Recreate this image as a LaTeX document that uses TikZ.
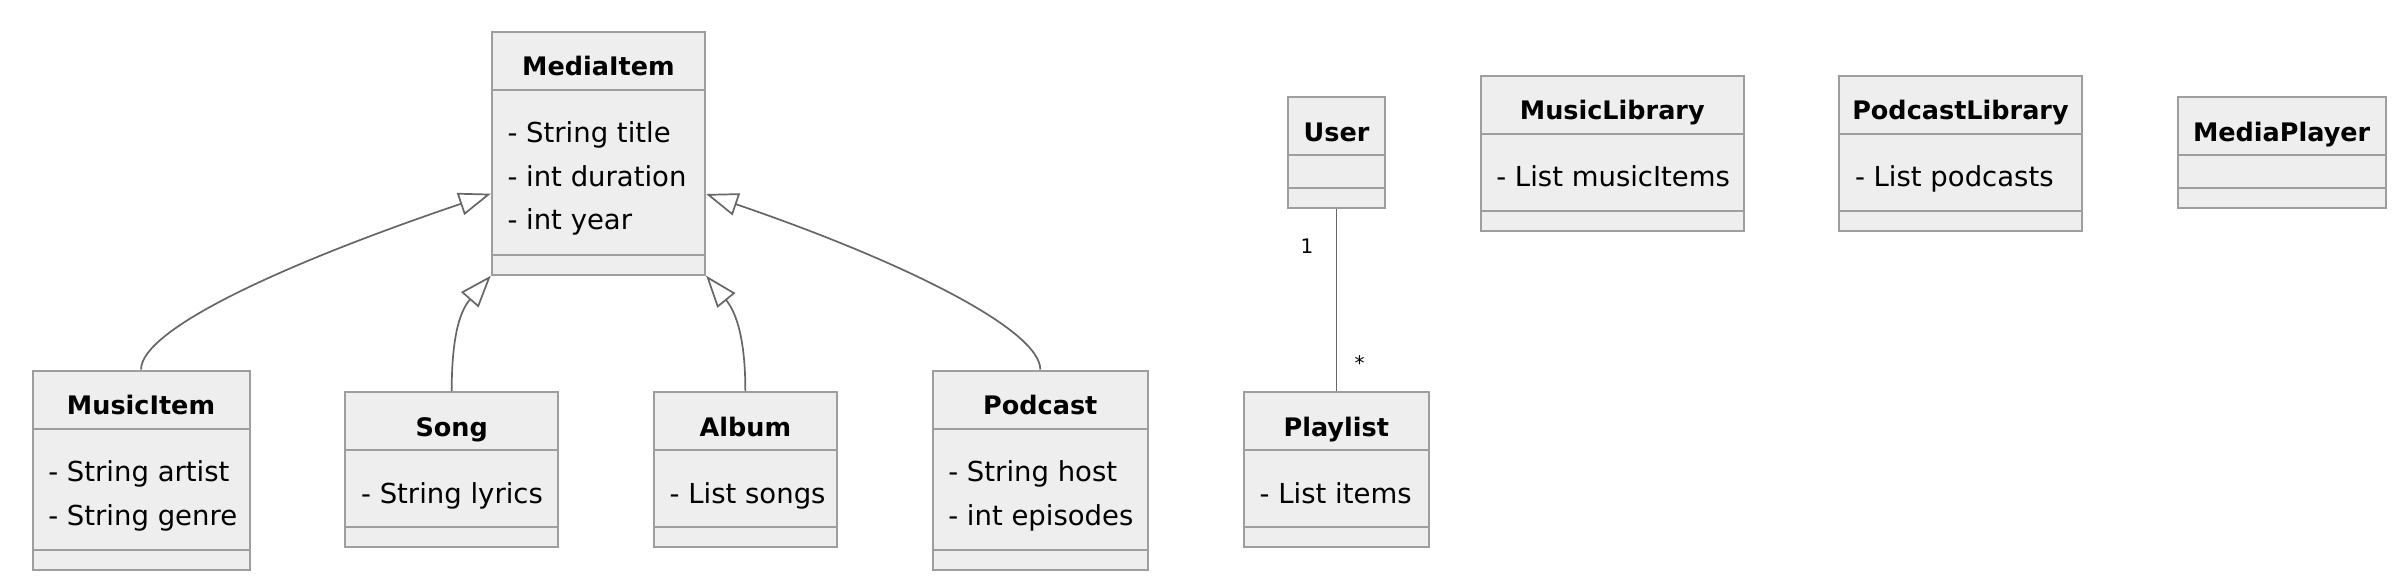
\documentclass[tikz,border=0pt]{standalone}
\usepackage{fontspec}
\setmainfont{DejaVu Sans}
\usetikzlibrary{arrows.meta}
\definecolor{boxfill}{HTML}{EEEEEE}
\definecolor{boxline}{HTML}{9E9E9E}
\definecolor{edgeline}{HTML}{666666}
\tikzset{
	cls/.style={draw=boxline, fill=boxfill, line width=2pt, anchor=north west, inner sep=0pt},
	sep/.style={draw=boxline, line width=2pt},
	ttl/.style={anchor=base, inner sep=0pt, font=\fontsize{25.5}{30}\selectfont\bfseries},
	attr/.style={anchor=base west, inner sep=0pt, font=\fontsize{27.5}{33}\selectfont},
	inh/.style={draw=edgeline, line width=1.7pt, -{Triangle[open, length=32pt, width=23pt]}},
	assoc/.style={draw=edgeline, line width=1.7pt},
	mult/.style={anchor=base, inner sep=0pt, font=\fontsize{20}{24}\selectfont}
}
\begin{document}
\begin{tikzpicture}[x=1pt, y=-1pt]
			%\draw[help lines] (0,0) grid[step=100] (2400,584);
			\useasboundingbox (0,0) rectangle (2400,584);
			% MediaItem
			\node[cls, minimum width=213.3pt, minimum height=243.2pt] (MediaItem) at (490.8,30.5) {};
			\draw[sep] ([yshift=-59pt]MediaItem.north west) -- ([yshift=-59pt]MediaItem.north east);
			\draw[sep] ([yshift=21pt]MediaItem.south west) -- ([yshift=21pt]MediaItem.south east);
			\node[ttl] at ([yshift=-45pt]MediaItem.north) {MediaItem};
			\node[attr] at ([xshift=16.5pt,yshift=-112pt]MediaItem.north west) {- String title};
			\node[attr] at ([xshift=16.5pt,yshift=-155.5pt]MediaItem.north west) {- int duration};
			\node[attr] at ([xshift=16.5pt,yshift=-199pt]MediaItem.north west) {- int year};
			% MusicItem
			\node[cls, minimum width=216.9pt, minimum height=199.2pt] (MusicItem) at (31.6,369.5) {};
			\draw[sep] ([yshift=-59pt]MusicItem.north west) -- ([yshift=-59pt]MusicItem.north east);
			\draw[sep] ([yshift=21pt]MusicItem.south west) -- ([yshift=21pt]MusicItem.south east);
			\node[ttl] at ([yshift=-45pt]MusicItem.north) {MusicItem};
			\node[attr] at ([xshift=16.5pt,yshift=-112pt]MusicItem.north west) {- String artist};
			\node[attr] at ([xshift=16.5pt,yshift=-155.5pt]MusicItem.north west) {- String genre};
			% Song
			\node[cls, minimum width=212.6pt, minimum height=155.4pt] (Song) at (344.4,391) {};
			\draw[sep] ([yshift=-59pt]Song.north west) -- ([yshift=-59pt]Song.north east);
			\draw[sep] ([yshift=21pt]Song.south west) -- ([yshift=21pt]Song.south east);
			\node[ttl] at ([yshift=-45pt]Song.north) {Song};
			\node[attr] at ([xshift=16.5pt,yshift=-112pt]Song.north west) {- String lyrics};
			% Album
			\node[cls, minimum width=182.7pt, minimum height=155.4pt] (Album) at (653,391) {};
			\draw[sep] ([yshift=-59pt]Album.north west) -- ([yshift=-59pt]Album.north east);
			\draw[sep] ([yshift=21pt]Album.south west) -- ([yshift=21pt]Album.south east);
			\node[ttl] at ([yshift=-45pt]Album.north) {Album};
			\node[attr] at ([xshift=16.5pt,yshift=-112pt]Album.north west) {- List songs};
			% Podcast
			\node[cls, minimum width=215.4pt, minimum height=199.2pt] (Podcast) at (931.6,369.5) {};
			\draw[sep] ([yshift=-59pt]Podcast.north west) -- ([yshift=-59pt]Podcast.north east);
			\draw[sep] ([yshift=21pt]Podcast.south west) -- ([yshift=21pt]Podcast.south east);
			\node[ttl] at ([yshift=-45pt]Podcast.north) {Podcast};
			\node[attr] at ([xshift=16.5pt,yshift=-112pt]Podcast.north west) {- String host};
			\node[attr] at ([xshift=16.5pt,yshift=-155.5pt]Podcast.north west) {- int episodes};
			% User
			\node[cls, minimum width=97pt, minimum height=111.4pt] (User) at (1287,96) {};
			\draw[sep] ([yshift=-59pt]User.north west) -- ([yshift=-59pt]User.north east);
			\draw[sep] ([yshift=21pt]User.south west) -- ([yshift=21pt]User.south east);
			\node[ttl] at ([yshift=-45pt]User.north) {User};
			% Playlist
			\node[cls, minimum width=184.5pt, minimum height=155.4pt] (Playlist) at (1243,391) {};
			\draw[sep] ([yshift=-59pt]Playlist.north west) -- ([yshift=-59pt]Playlist.north east);
			\draw[sep] ([yshift=21pt]Playlist.south west) -- ([yshift=21pt]Playlist.south east);
			\node[ttl] at ([yshift=-45pt]Playlist.north) {Playlist};
			\node[attr] at ([xshift=16.5pt,yshift=-112pt]Playlist.north west) {- List items};
			% MusicLibrary
			\node[cls, minimum width=263.3pt, minimum height=155.3pt] (MusicLibrary) at (1479.6,74.5) {};
			\draw[sep] ([yshift=-59pt]MusicLibrary.north west) -- ([yshift=-59pt]MusicLibrary.north east);
			\draw[sep] ([yshift=21pt]MusicLibrary.south west) -- ([yshift=21pt]MusicLibrary.south east);
			\node[ttl] at ([yshift=-45pt]MusicLibrary.north) {MusicLibrary};
			\node[attr] at ([xshift=16.5pt,yshift=-112pt]MusicLibrary.north west) {- List musicItems};
			% PodcastLibrary
			\node[cls, minimum width=242.3pt, minimum height=155.3pt] (PodcastLibrary) at (1838.3,74.5) {};
			\draw[sep] ([yshift=-59pt]PodcastLibrary.north west) -- ([yshift=-59pt]PodcastLibrary.north east);
			\draw[sep] ([yshift=21pt]PodcastLibrary.south west) -- ([yshift=21pt]PodcastLibrary.south east);
			\node[ttl] at ([yshift=-45pt]PodcastLibrary.north) {PodcastLibrary};
			\node[attr] at ([xshift=16.5pt,yshift=-112pt]PodcastLibrary.north west) {- List podcasts};
			% MediaPlayer
			\node[cls, minimum width=208.2pt, minimum height=111.4pt] (MediaPlayer) at (2176.5,96) {};
			\draw[sep] ([yshift=-59pt]MediaPlayer.north west) -- ([yshift=-59pt]MediaPlayer.north east);
			\draw[sep] ([yshift=21pt]MediaPlayer.south west) -- ([yshift=21pt]MediaPlayer.south east);
			\node[ttl] at ([yshift=-45pt]MediaPlayer.north) {MediaPlayer};
			% inheritance
			\draw[inh] (MusicItem.north) .. controls +(0,-39.5) and (280,265) .. ([yshift=-40.6pt]MediaItem.west);
			\draw[inh] (Song.north) .. controls +(0,-60) and (461.7,309) .. (MediaItem.south west);
			\draw[inh] (Album.north) .. controls +(0,-60) and (733.4,309) .. (MediaItem.south east);
			\draw[inh] (Podcast.north) .. controls +(0,-39.5) and (905,262) .. ([yshift=-40.9pt]MediaItem.east);
			% association
			\draw[assoc] (User.south) -- (User.south |- Playlist.north)
				node[mult, pos=0.241, xshift=-29.5pt] {1}
				node[mult, pos=0.888, xshift=23pt] {*};
\end{tikzpicture}
\end{document}
